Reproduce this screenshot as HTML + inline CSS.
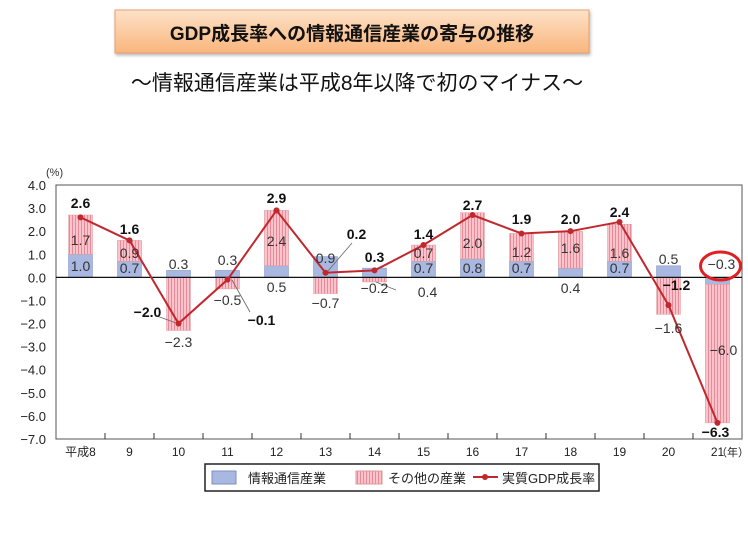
<!DOCTYPE html>
<html><head><meta charset="utf-8"><style>
body{margin:0;background:#fff;width:748px;height:539px;overflow:hidden;font-family:"Liberation Sans","Noto Sans CJK JP",sans-serif}
</style></head><body>
<svg width="748" height="539" xmlns="http://www.w3.org/2000/svg" font-family="Liberation Sans, Noto Sans CJK JP, sans-serif">
<defs>
<linearGradient id="og" x1="0" y1="0" x2="0" y2="1"><stop offset="0" stop-color="#fde2c8"/><stop offset="1" stop-color="#f9b57c"/></linearGradient>
<pattern id="st" width="3" height="4" patternUnits="userSpaceOnUse"><rect width="3" height="4" fill="#fbc4cc"/><rect width="1" height="4" fill="#e88a98"/></pattern>
<filter id="sh"><feDropShadow dx="1" dy="2" stdDeviation="1.5" flood-color="#888" flood-opacity="0.6"/></filter>
</defs>
<rect x="115" y="10" width="474" height="43" fill="url(#og)" stroke="#e8a070" filter="url(#sh)"/>
<text x="352" y="40" text-anchor="middle" font-size="19" font-weight="bold" fill="#111">GDP成長率への情報通信産業の寄与の推移</text>
<text x="357" y="90" text-anchor="middle" font-size="21" fill="#111">～情報通信産業は平成8年以降で初のマイナス～</text>
<g id="chart"></g>
</svg>
<script>
const s=document.querySelector('#chart');const NS='http://www.w3.org/2000/svg';
function el(t,a,txt){const e=document.createElementNS(NS,t);for(const k in a)e.setAttribute(k,a[k]);if(txt!==undefined)e.textContent=txt;s.appendChild(e);return e;}
const L=56,R=742,T=185,B=439,cw=49,u=(439-185)/11;
const y0=T+4*u;const yy=v=>y0-v*u;
const d=[[1.0,1.7,2.6],[0.7,0.9,1.6],[0.3,-2.3,-2.0],[0.3,-0.5,-0.1],[0.5,2.4,2.9],[0.9,-0.7,0.2],[0.4,-0.2,0.3],[0.7,0.7,1.4],[0.8,2.0,2.7],[0.7,1.2,1.9],[0.4,1.6,2.0],[0.7,1.6,2.4],[0.5,-1.6,-1.2],[-0.3,-6.0,-6.3]];
const labs=['平成8','9','10','11','12','13','14','15','16','17','18','19','20','21'];
for(let i=0;i<=11;i++){const v=4-i;el('text',{x:46,y:yy(v)+5,'text-anchor':'end','font-size':13,fill:'#222'},(v<0?'−':'')+Math.abs(v).toFixed(1));}
el('text',{x:46,y:176,'font-size':11,fill:'#333'},'(%)');
el('rect',{x:L,y:T,width:R-L,height:B-T,fill:'none',stroke:'#555','stroke-width':1});
const pts=[];
d.forEach((r,i)=>{const cx=L+cw*i+cw/2,w=24,x=cx-w/2;let [a,b,g]=r;
 if(a>=0){el('rect',{x,y:yy(a),width:w,height:a*u,fill:'#a9b8e0',stroke:'#8090c0','stroke-width':.5});}
 else el('rect',{x,y:y0,width:w,height:-a*u,fill:'#a9b8e0',stroke:'#8090c0','stroke-width':.5});
 if(b>=0){const base=a>0?a:0;el('rect',{x,y:yy(base+b),width:w,height:b*u,fill:'url(#st)',stroke:'#d99','stroke-width':.5});}
 else{const base=a<0?a:0;el('rect',{x,y:yy(base),width:w,height:-b*u,fill:'url(#st)',stroke:'#d99','stroke-width':.5});}
 pts.push([cx,yy(g)]);
 el('text',{x:cx,y:B+17,'text-anchor':'middle','font-size':12,fill:'#222'},labs[i]);
 if(i>0)el('line',{x1:L+cw*i,y1:B,x2:L+cw*i,y2:B-6,stroke:'#333'});
});
el('text',{x:R-26,y:B+17,'font-size':11,fill:'#222'},'（年）');
el('line',{x1:L,y1:y0,x2:R,y2:y0,stroke:'#111','stroke-width':1.2});
// leader lines
[[157,316,176,323],[232,280,250,312],[352,243,328,271],[376,282,396,290]].forEach(l=>el('line',{x1:l[0],y1:l[1],x2:l[2],y2:l[3],stroke:'#666','stroke-width':.8}));
el('polyline',{points:pts.map(p=>p.join(',')).join(' '),fill:'none',stroke:'#c0282d','stroke-width':2});
pts.forEach(p=>el('circle',{cx:p[0],cy:p[1],r:3,fill:'#c0282d'}));
function t(x,y,s,b){el('text',{x,y,'text-anchor':'middle','font-size':14,'font-weight':b?'bold':'normal',fill:b?'#111':'#333'},s);}
const C=i=>L+cw*i+cw/2;
[[0,'1.0',271],[0,'1.7',245],[1,'0.7',273],[1,'0.9',258],[7,'0.7',273],[7,'0.7',258],[8,'0.8',273],[8,'2.0',248],[9,'0.7',273],[9,'1.2',257],[10,'1.6',253],[11,'0.7',273],[11,'1.6',258],[4,'2.4',246]].forEach(a=>t(C(a[0]),a[2],a[1]));
t(C(2),269,'0.3');t(C(2),347,'−2.3');t(C(3),265,'0.3');t(C(3),305,'−0.5');t(C(4),292,'0.5');
t(C(5),263,'0.9');t(C(5),308,'−0.7');t(C(6),293,'−0.2');t(C(7)+4,297,'0.4');t(C(10),293,'0.4');
t(C(12),264,'0.5');t(C(12),333,'−1.6');t(C(13)+4,269,'−0.3');t(C(13)+6,355,'−6.0');
t(C(0),208,'2.6',1);t(C(1),234,'1.6',1);t(C(2)-31,317,'−2.0',1);t(C(3)+34,325,'−0.1',1);t(C(4),203,'2.9',1);t(C(5)+31,239,'0.2',1);t(C(6),262,'0.3',1);
t(C(7),239,'1.4',1);t(C(8),210,'2.7',1);t(C(9),224,'1.9',1);t(C(10),224,'2.0',1);t(C(11),217,'2.4',1);t(C(12)+8,290,'−1.2',1);t(C(13)-2,437,'−6.3',1);
el('ellipse',{cx:C(13)+3,cy:266,rx:20,ry:14,fill:'none',stroke:'#e02020','stroke-width':3});
el('rect',{x:205,y:464,width:394,height:27,fill:'#fff',stroke:'#222','stroke-width':1.5});
el('rect',{x:212,y:471,width:24,height:13,fill:'#a9b8e0',stroke:'#8090c0'});
el('text',{x:248,y:483,'font-size':13,fill:'#222'},'情報通信産業');
el('rect',{x:356,y:471,width:26,height:13,fill:'url(#st)',stroke:'#d99'});
el('text',{x:388,y:483,'font-size':13,fill:'#222'},'その他の産業');
el('line',{x1:473,y1:477,x2:498,y2:477,stroke:'#c0282d','stroke-width':2});
el('circle',{cx:485,cy:477,r:3,fill:'#c0282d'});
el('text',{x:502,y:483,'font-size':13,fill:'#222'},'実質GDP成長率');
</script>
</body></html>
